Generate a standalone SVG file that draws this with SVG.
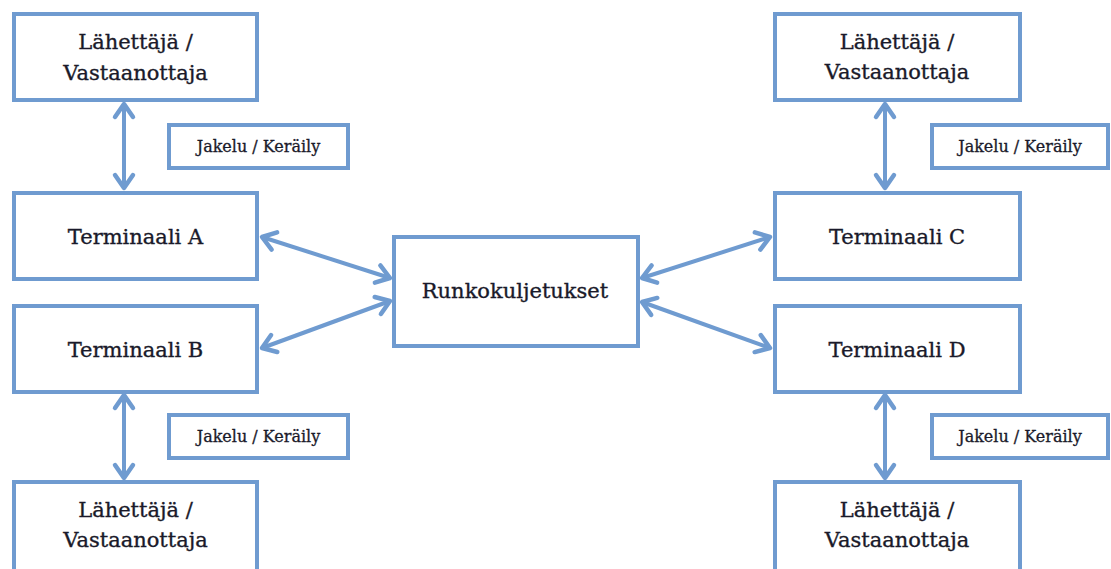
<svg xmlns="http://www.w3.org/2000/svg" width="1111" height="569" viewBox="0 0 1111 569">
<style>
.box{fill:#fff;stroke:#6f9bd0;stroke-width:4}
.t{font-family:"DejaVu Serif","Liberation Serif",serif;font-size:21px;fill:#1a1a2a;stroke:#1a1a2a;stroke-width:0.35;text-anchor:middle}
.s{font-family:"DejaVu Serif","Liberation Serif",serif;font-size:16px;fill:#1a1a2a;stroke:#1a1a2a;stroke-width:0.3;text-anchor:middle}
.c{stroke:#6f9bd0;stroke-width:4;fill:none}
</style>
<defs>
<marker id="ah" markerUnits="userSpaceOnUse" markerWidth="30" markerHeight="30" viewBox="-20 -15 30 30" refX="0" refY="0" orient="auto-start-reverse">
<path d="M-13,-9 L0,0 L-13,9" fill="none" stroke="#6f9bd0" stroke-width="4.5" stroke-linecap="round" stroke-linejoin="round"/>
</marker>
</defs>
<rect width="1111" height="569" fill="#fff"/>
<g id="connectors" class="c">
<line x1="124" y1="104" x2="124" y2="188" marker-start="url(#ah)" marker-end="url(#ah)"/>
<line x1="124" y1="395" x2="124" y2="478" marker-start="url(#ah)" marker-end="url(#ah)"/>
<line x1="885" y1="104" x2="885" y2="188" marker-start="url(#ah)" marker-end="url(#ah)"/>
<line x1="885" y1="395" x2="885" y2="478" marker-start="url(#ah)" marker-end="url(#ah)"/>
<line x1="262" y1="237" x2="390" y2="278" marker-start="url(#ah)" marker-end="url(#ah)"/>
<line x1="262" y1="348" x2="390" y2="301" marker-start="url(#ah)" marker-end="url(#ah)"/>
<line x1="642" y1="278" x2="770" y2="237" marker-start="url(#ah)" marker-end="url(#ah)"/>
<line x1="642" y1="302" x2="770" y2="348" marker-start="url(#ah)" marker-end="url(#ah)"/>
</g>
<g id="sender-tl"><rect class="box" x="14" y="14" width="243" height="86"/><text class="t" x="135.5" y="49">Lähettäjä /</text><text class="t" x="135.5" y="80">Vastaanottaja</text></g>
<g id="label-tl"><rect class="box" x="169" y="125" width="179" height="43"/><text class="s" x="258.5" y="152">Jakelu / Keräily</text></g>
<g id="term-a"><rect class="box" x="14" y="193" width="243" height="86"/><text class="t" x="135.5" y="244">Terminaali A</text></g>
<g id="term-b"><rect class="box" x="14" y="306" width="243" height="86"/><text class="t" x="135.5" y="357">Terminaali B</text></g>
<g id="label-bl"><rect class="box" x="169" y="415" width="179" height="43"/><text class="s" x="258.5" y="442">Jakelu / Keräily</text></g>
<g id="sender-bl"><rect class="box" x="14" y="482" width="243" height="92"/><text class="t" x="135.5" y="517">Lähettäjä /</text><text class="t" x="135.5" y="547">Vastaanottaja</text></g>
<g id="runko"><rect class="box" x="394" y="237" width="244" height="109"/><text class="t" x="515" y="298">Runkokuljetukset</text></g>
<g id="sender-tr"><rect class="box" x="775" y="14" width="245" height="86"/><text class="t" x="897" y="49">Lähettäjä /</text><text class="t" x="897" y="79">Vastaanottaja</text></g>
<g id="label-tr"><rect class="box" x="932" y="125" width="176" height="43"/><text class="s" x="1020" y="152">Jakelu / Keräily</text></g>
<g id="term-c"><rect class="box" x="775" y="193" width="245" height="86"/><text class="t" x="897" y="244">Terminaali C</text></g>
<g id="term-d"><rect class="box" x="775" y="306" width="245" height="86"/><text class="t" x="897" y="357">Terminaali D</text></g>
<g id="label-br"><rect class="box" x="932" y="415" width="176" height="43"/><text class="s" x="1020" y="442">Jakelu / Keräily</text></g>
<g id="sender-br"><rect class="box" x="775" y="482" width="245" height="92"/><text class="t" x="897" y="517">Lähettäjä /</text><text class="t" x="897" y="547">Vastaanottaja</text></g>
</svg>
